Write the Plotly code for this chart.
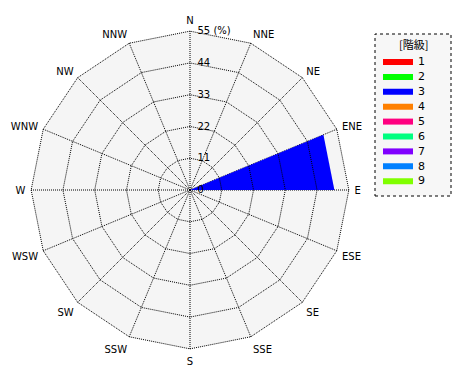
import plotly.graph_objects as go

directions = ["N", "NNE", "NE", "ENE", "E", "ESE", "SE", "SSE",
              "S", "SSW", "SW", "WSW", "W", "WNW", "NW", "NNW"]
classes = ["1", "2", "3", "4", "5", "6", "7", "8", "9"]
class_colors = ["#ff0000", "#00ff00", "#0000ff", "#ff8000", "#ff0080",
                "#00ff80", "#8000ff", "#0080ff", "#80ff00"]
# frequency (%) per class for the sector starting at each direction (clockwise)
freq = {
    "1": [0] * 16,
    "2": [0] * 16,
    "3": [0, 0, 0, 50, 0, 0, 0, 0, 0, 0, 0, 0, 0, 0, 0, 0],
    "4": [0] * 16,
    "5": [0] * 16,
    "6": [0] * 16,
    "7": [0] * 16,
    "8": [0] * 16,
    "9": [0] * 16,
}
radial_ticks = [0, 11, 22, 33, 44, 55]
radial_labels = ["0", "11", "22", "33", "44", "55 (%)"]
r_max = 55
legend_title = "[階級]"

FONT = "DejaVu Sans"
W, H = 470, 380
CX, CY, R = 190, 190, 159
R_TOP = r_max + 0.05
R2_TOP = 60
R2 = R * R2_TOP / R_TOP

fig = go.Figure()

cum = [0.0] * 16
for k, (cls, col) in enumerate(zip(classes, class_colors)):
    vals = freq[cls]
    rr, tt = [], []
    for i, v in enumerate(vals):
        if v <= 0:
            continue
        d0 = directions[i]
        d1 = directions[(i + 1) % 16]
        inner, outer = cum[i], cum[i] + v
        rr += [inner, outer, outer, inner, inner, None]
        tt += [d0, d0, d1, d1, d0, None]
        cum[i] = outer
    if not rr:
        rr, tt = [None], [directions[0]]
    fig.add_trace(go.Scatterpolar(
        r=rr, theta=tt, mode="lines", fill="toself",
        fillcolor=col, line=dict(color=col, width=0),
        name=cls, subplot="polar", hoverinfo="skip",
        legend="legend" if k == 0 else f"legend{k + 1}"))

# empty trace that creates the overlay subplot carrying the rings above the data
fig.add_trace(go.Scatterpolar(r=[None], theta=[directions[0]], mode="lines",
                              subplot="polar2", showlegend=False, hoverinfo="skip"))

def dom(rad):
    return dict(x=[(CX - rad) / W, (CX + rad) / W],
                y=[(H - CY - rad) / H, (H - CY + rad) / H])

DOT = "1px,1px"
layout = dict(
    width=W, height=H,
    margin=dict(l=0, r=0, t=0, b=0),
    paper_bgcolor="white",
    polar=dict(
        domain=dom(R), gridshape="linear", bgcolor="#f5f5f5",
        radialaxis=dict(range=[0, R_TOP], tickvals=radial_ticks, ticktext=radial_labels,
                        angle=90, tickangle=90, ticks="outside", ticklen=5,
                        tickcolor="rgba(0,0,0,0)", showline=False, showgrid=False,
                        tickfont=dict(family=FONT, size=10, color="black")),
        angularaxis=dict(type="category", categoryarray=directions, rotation=90,
                         direction="clockwise", showline=False,
                         ticks="outside", ticklen=3, tickcolor="rgba(0,0,0,0)",
                         gridcolor="black", griddash=DOT, gridwidth=1,
                         tickfont=dict(family=FONT, size=10, color="black"))),
    polar2=dict(
        domain=dom(R2), gridshape="linear", bgcolor="rgba(0,0,0,0)",
        radialaxis=dict(range=[0, R2_TOP], tickvals=radial_ticks[1:], showticklabels=False,
                        angle=90, ticks="", showline=False,
                        gridcolor="black", griddash=DOT, gridwidth=1),
        angularaxis=dict(type="category", categoryarray=directions, rotation=90,
                         direction="clockwise", showline=False, showgrid=False,
                         ticks="", showticklabels=False)),
    showlegend=True,
    annotations=[dict(text=legend_title, xref="paper", yref="paper",
                      x=413 / W, y=1 - 44 / H, xanchor="center", yanchor="middle",
                      showarrow=False,
                      font=dict(family="Noto Sans CJK JP", size=11, color="black"))],
    shapes=[dict(type="rect", xref="paper", yref="paper",
                 x0=375 / W, x1=451 / W, y0=1 - 196 / H, y1=1 - 34 / H,
                 line=dict(color="black", width=1, dash="dot"),
                 fillcolor="#f7f7f7", layer="below")],
)
for k in range(len(classes)):
    key = "legend" if k == 0 else f"legend{k + 1}"
    layout[key] = dict(x=378 / W, y=1 - (61 + 14.9 * k) / H, xanchor="left",
                       yanchor="middle", bgcolor="rgba(0,0,0,0)", borderwidth=0,
                       font=dict(family=FONT, size=11, color="black"), itemwidth=30)
fig.update_layout(**layout)

fig.write_html("out.html")
